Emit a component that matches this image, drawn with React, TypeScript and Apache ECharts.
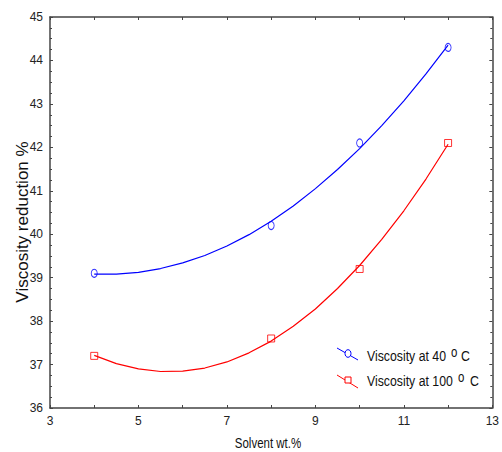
import React, { useEffect, useRef } from "react";
import * as echarts from "echarts";

const solvent = [4, 8, 10, 12];
const visc40 = [39.1, 40.2, 42.1, 44.3];
const visc100 = [37.2, 37.6, 39.2, 42.1];

// fitted curves
const curveX = [4, 4.5, 5, 5.5, 6, 6.5, 7, 7.5, 8, 8.5, 9, 9.5, 10, 10.5, 11, 11.5, 12];
const curve40 = [39.08, 39.08, 39.12, 39.21, 39.34, 39.51, 39.73, 39.99, 40.3, 40.65, 41.05, 41.49, 41.97, 42.5, 43.07, 43.69, 44.35];
const curve100 = [37.21, 37.02, 36.9, 36.84, 36.85, 36.92, 37.06, 37.27, 37.54, 37.88, 38.28, 38.75, 39.28, 39.88, 40.54, 41.27, 42.07];

const xTitle = "Solvent wt.%";
const yTitle = "Viscosity reduction %";
const legendNames = ["Viscosity at 40", "Viscosity at 100"];

const SANS = "'Liberation Sans', Arial, sans-serif";
const BLUE = "#0000ff";
const RED = "#ff0000";
const AXIS = "#444";
const NX = 0.82; // horizontal squeeze to mimic the narrow face

export default function App() {
  const ref = useRef<HTMLDivElement>(null);
  useEffect(() => {
    if (!ref.current) return;
    const chart = echarts.init(ref.current, null, { renderer: "svg" });
    const label = { fontFamily: SANS, fontSize: 12, color: "#222" };
    const axisLine = { show: true, lineStyle: { color: AXIS, width: 1.5 } };
    const tick = { show: true, inside: true, length: 3, lineStyle: { color: AXIS } };
    const minor = { show: true, length: 2, lineStyle: { color: AXIS } };
    const txt = (x: number, y: number, text: string, size: number, extra: any = {}) => ({
      type: "text", x, y, scaleX: NX,
      style: { text, fontFamily: SANS, fontSize: size, fill: "#111", verticalAlign: "middle", ...extra },
    });
    chart.setOption({
      animation: false,
      backgroundColor: "#fff",
      grid: { left: 50, right: 8, top: 17, bottom: 44 },
      xAxis: [
        {
          type: "value", min: 3, max: 13, interval: 2, position: "bottom",
          axisLine, axisTick: tick, minorTick: { ...minor, splitNumber: 2, length: 3 },
          splitLine: { show: false }, minorSplitLine: { show: false },
          axisLabel: { ...label, margin: 7 },
        },
        {
          type: "value", min: 3, max: 13, interval: 1, position: "top",
          axisLine, axisTick: tick, axisLabel: { show: false }, splitLine: { show: false },
        },
      ],
      yAxis: [
        {
          type: "value", min: 36, max: 45, interval: 1, position: "left",
          axisLine, axisTick: tick, minorTick: { ...minor, splitNumber: 4 },
          splitLine: { show: false }, minorSplitLine: { show: false },
          axisLabel: { ...label, margin: 7 },
        },
        {
          type: "value", min: 36, max: 45, interval: 1, position: "right",
          axisLine, axisTick: tick, minorTick: { ...minor, splitNumber: 4 },
          axisLabel: { show: false }, splitLine: { show: false },
        },
      ],
      series: [
        {
          type: "line", xAxisIndex: 0, yAxisIndex: 0, smooth: false, showSymbol: false,
          data: curveX.map((x, i) => [x, curve40[i]]),
          lineStyle: { color: BLUE, width: 1.2 }, silent: true,
        },
        {
          type: "line", xAxisIndex: 0, yAxisIndex: 0, smooth: false, showSymbol: false,
          data: curveX.map((x, i) => [x, curve100[i]]),
          lineStyle: { color: RED, width: 1.2 }, silent: true,
        },
        {
          type: "scatter", xAxisIndex: 0, yAxisIndex: 0, symbol: "circle", symbolSize: [6, 8],
          data: solvent.map((x, i) => [x, visc40[i]]),
          itemStyle: { color: "#fff", borderColor: BLUE, borderWidth: 1 },
        },
        {
          type: "scatter", xAxisIndex: 0, yAxisIndex: 0, symbol: "rect", symbolSize: 7,
          data: solvent.map((x, i) => [x, visc100[i]]),
          itemStyle: { color: "#fff", borderColor: RED, borderWidth: 1 },
        },
      ],
      graphic: [
        {
          type: "text", x: 22, y: 222, rotation: Math.PI / 2,
          style: { text: yTitle, fontFamily: SANS, fontSize: 17, fill: "#111", align: "center", verticalAlign: "middle" },
        },
        txt(268, 436, xTitle, 14, { align: "center", verticalAlign: "top" }),
        // legend 40 C
        { type: "line", shape: { x1: 337, y1: 348, x2: 358, y2: 360 }, style: { stroke: BLUE, lineWidth: 1 } },
        { type: "ellipse", shape: { cx: 348, cy: 353.5, rx: 3, ry: 3.8 }, style: { fill: "#fff", stroke: BLUE, lineWidth: 1 } },
        txt(367, 356, legendNames[0], 15),
        txt(451, 352, "o", 14),
        txt(461, 356, "C", 15),
        // legend 100 C
        { type: "line", shape: { x1: 337, y1: 375, x2: 358, y2: 388 }, style: { stroke: RED, lineWidth: 1 } },
        { type: "rect", shape: { x: 345, y: 377, width: 6, height: 6 }, style: { fill: "#fff", stroke: RED, lineWidth: 1 } },
        txt(367, 381, legendNames[1], 15),
        txt(458, 377, "o", 14),
        txt(470, 381, "C", 15),
      ],
    });
    return () => chart.dispose();
  }, []);
  return <div ref={ref} style={{ width: 502, height: 452, position: "absolute", left: 0, top: 0 }} />;
}
